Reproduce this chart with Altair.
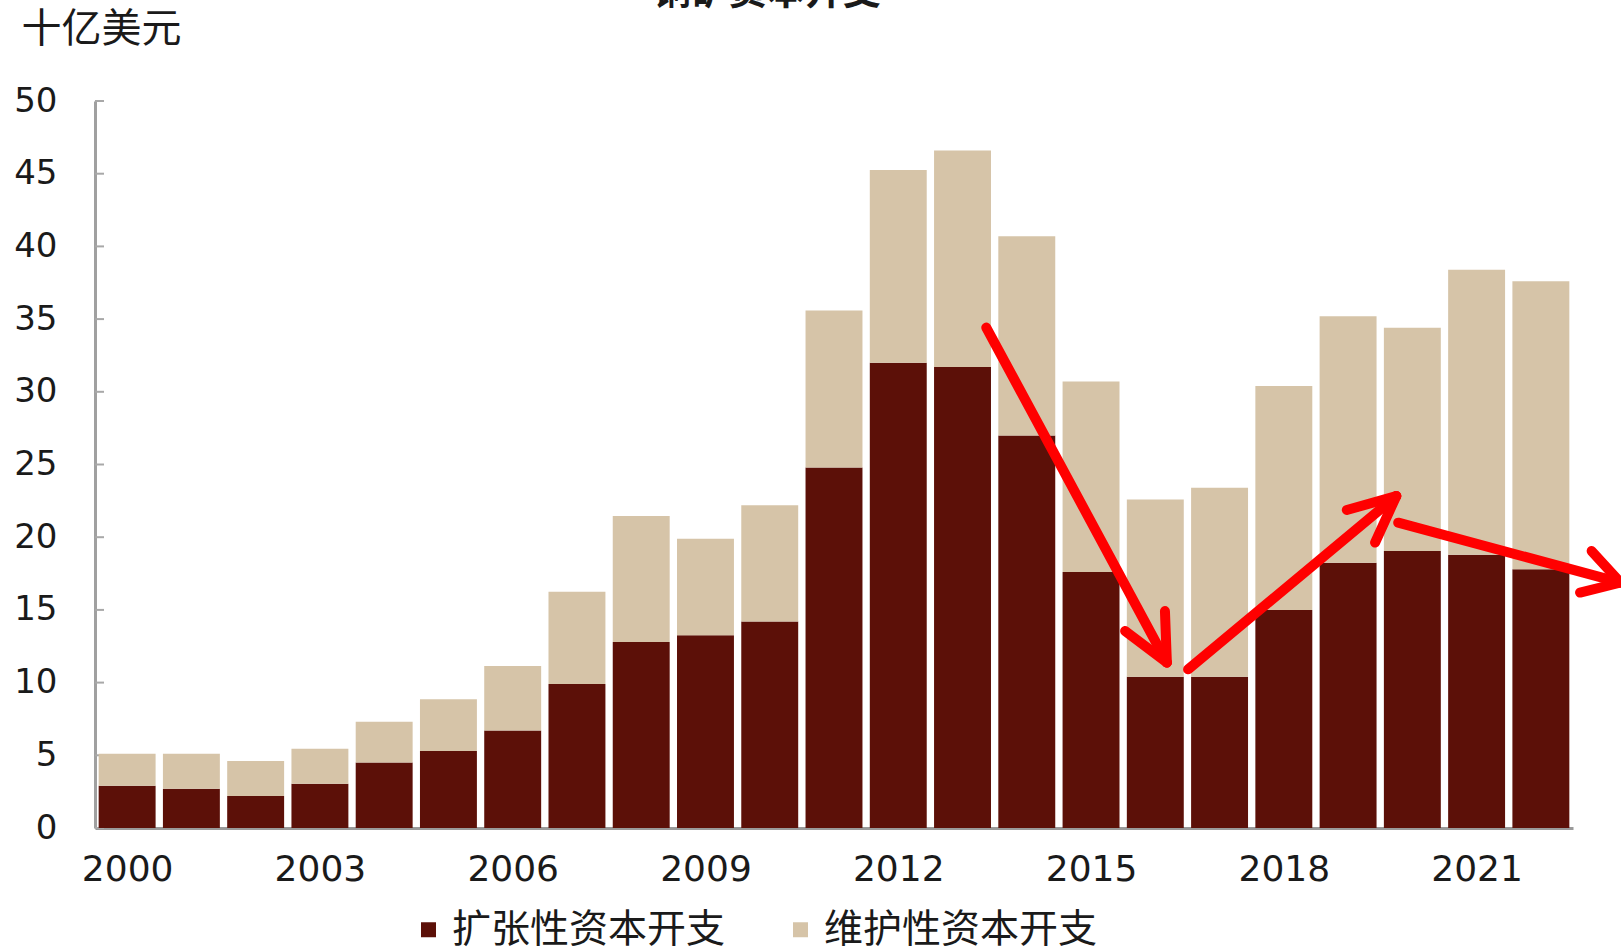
import altair as alt
import pandas as pd

# ---- data ----
years = list(range(2000, 2023))
expansion = [2.9, 2.7, 2.2, 3.05, 4.5, 5.3, 6.7, 9.9, 12.8, 13.25, 14.2,
             24.8, 32.0, 31.7, 27.0, 17.6, 10.4, 10.4, 15.0, 18.25, 19.05, 18.8, 17.8]
sustaining = [2.2, 2.4, 2.4, 2.4, 2.8, 3.55, 4.45, 6.35, 8.65, 6.65, 8.0,
              10.8, 13.25, 14.9, 13.7, 13.1, 12.2, 13.0, 15.4, 16.95, 15.35, 19.6, 19.8]
series_names = ["扩张性资本开支", "维护性资本开支"]
series_colors = ["#5C1008", "#D6C4A8"]
y_ticks = list(range(0, 55, 5))
x_label_years = [2000, 2003, 2006, 2009, 2012, 2015, 2018, 2021]
title_text = "铜矿资本开支"
unit_text = "十亿美元"

# red trend arrows (year, value) segments: shafts and heads
arrow_x1 = [2013.37, 2016.18, 2016.18, 2016.51, 2019.75, 2019.75, 2019.78, 2023.24, 2023.24]
arrow_y1 = [34.42, 11.38, 11.38, 10.91, 22.83, 22.83, 21.0, 16.88, 16.88]
arrow_x2 = [2016.18, 2015.53, 2016.15, 2019.75, 2018.98, 2019.42, 2023.24, 2022.79, 2022.61]
arrow_y2 = [11.38, 13.55, 14.92, 22.83, 21.87, 19.63, 16.88, 19.05, 16.19]

# ---- tables ----
rows = []
for i, yr in enumerate(years):
    rows.append({"year": yr, "series": series_names[0], "y0": 0.0, "y1": expansion[i]})
    rows.append({"year": yr, "series": series_names[1], "y0": expansion[i],
                 "y1": expansion[i] + sustaining[i]})
bars_df = pd.DataFrame(rows)
ticks_df = pd.DataFrame({"y0": y_ticks})
arrows_df = pd.DataFrame({"x0": arrow_x1, "y0": arrow_y1, "x1": arrow_x2, "y1": arrow_y2})
title_df = pd.DataFrame({"t": [title_text]})

xscale = alt.Scale(domain=[1999.5, 2022.5], nice=False, zero=False)
yscale = alt.Scale(domain=[0, 50], nice=False)

num_font = "DejaVu Sans"
cjk_font = "Noto Sans CJK SC"

ticks = alt.Chart(ticks_df).mark_rule(color="#A8A8A8", strokeWidth=2).encode(
    y=alt.Y("y0:Q", scale=yscale, title=unit_text),
    x=alt.value(0), x2=alt.value(9),
)

bars = alt.Chart(bars_df).transform_calculate(
    x0="datum.year - 0.443", x1="datum.year + 0.443"
).mark_bar().encode(
    x=alt.X("x0:Q", scale=xscale,
            axis=alt.Axis(values=x_label_years, format="d", title=None, ticks=False,
                          grid=False, labelFont=num_font, labelFontSize=36,
                          labelColor="#1a1a1a", labelPadding=24,
                          domainColor="#9A9A9A", domainWidth=3)),
    x2="x1:Q",
    y=alt.Y("y0:Q", scale=yscale,
            axis=alt.Axis(values=y_ticks, title=unit_text, ticks=False, grid=False,
                          labelFont=num_font, labelFontSize=34, labelColor="#1a1a1a",
                          labelPadding=38, domainColor="#A0A0A0", domainWidth=3,
                          titleAngle=0, titleAlign="left", titleBaseline="alphabetic",
                          titleX=-74, titleY=-60, titleFont=cjk_font, titleFontSize=40,
                          titleFontWeight="normal", titleColor="#1a1a1a",
                          titleLimit=0)),
    y2="y1:Q",
    color=alt.Color("series:N",
                    scale=alt.Scale(domain=series_names, range=series_colors),
                    legend=alt.Legend(title=None, orient="none", direction="horizontal",
                                      legendX=314, legendY=809, padding=0,
                                      symbolType="square", symbolSize=225,
                                      symbolStrokeWidth=0, labelFont=cjk_font,
                                      labelFontSize=39, labelColor="#1a1a1a",
                                      labelLimit=0, labelOffset=4, columnPadding=55)),
)

arrows = alt.Chart(arrows_df).mark_rule(
    color="#FF0000", strokeWidth=10, strokeCap="round", clip=False
).encode(
    x=alt.X("x0:Q", scale=xscale), x2="x1:Q",
    y=alt.Y("y0:Q", scale=yscale, title=unit_text), y2="y1:Q",
)

title = alt.Chart(title_df).mark_text(
    font=cjk_font, fontSize=38, fontWeight="bold", color="#1a1a1a",
    align="center", baseline="alphabetic"
).encode(text="t:N", x=alt.value(672), y=alt.value(-97))

chart = alt.layer(ticks, bars, arrows, title).properties(
    width=1478, height=727,
    padding={"left": 95, "top": 101, "right": 48, "bottom": 119},
    autosize=alt.AutoSizeParams(type="none"),
    background="white",
).configure_view(stroke=None)

chart.save("out.html", embed_options={"renderer": "svg", "actions": False})
